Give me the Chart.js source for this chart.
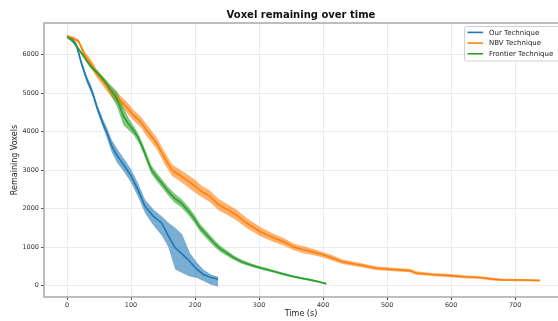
<!DOCTYPE html>
<html>
<head>
<meta charset="utf-8">
<script src="https://cdn.jsdelivr.net/npm/chart.js@4.4.0/dist/chart.umd.min.js"></script>
<style>
  html, body { margin: 0; padding: 0; background: #fff; }
  canvas { display: block; }
</style>
</head>
<body>
<canvas id="myChart" width="558" height="321"></canvas>
<script>
var seriesNames = ['Our Technique', 'NBV Technique', 'Frontier Technique'];
var xTicks = [0, 100, 200, 300, 400, 500, 600, 700];
var yTicks = [0, 1000, 2000, 3000, 4000, 5000, 6000];

// Our Technique
var ourTime = [0, 8, 15, 22, 30, 40, 47, 55, 62, 70, 78, 88, 100, 111, 122, 135, 148, 158, 169, 180, 192, 203, 213, 225, 236];
var ourMean = [6480, 6400, 6230, 5800, 5400, 5000, 4620, 4260, 3980, 3620, 3380, 3150, 2850, 2480, 2050, 1800, 1620, 1300, 980, 820, 620, 420, 290, 210, 170];
var ourLow  = [6450, 6350, 6160, 5720, 5310, 4910, 4530, 4150, 3850, 3460, 3200, 2980, 2680, 2300, 1880, 1560, 1300, 1010, 420, 330, 240, 200, 120, 20, -20];
var ourHigh = [6510, 6450, 6300, 5880, 5490, 5090, 4710, 4370, 4110, 3780, 3560, 3320, 3020, 2660, 2230, 1980, 1800, 1640, 1500, 1330, 850, 600, 420, 290, 230];

// NBV Technique
var nbvTime = [0, 10, 18, 28, 38, 46, 59, 70, 83, 95, 103, 115, 126, 140, 153, 164, 175, 187, 197, 210, 223, 237, 250, 265, 281, 302, 320, 338, 355, 369, 385, 400, 416, 430, 442, 460, 484, 510, 536, 545, 570, 598, 620, 645, 665, 680, 710, 739];
var nbvMean = [6480, 6420, 6350, 5975, 5750, 5520, 5240, 5000, 4810, 4600, 4440, 4250, 4000, 3700, 3300, 3000, 2880, 2740, 2620, 2450, 2320, 2100, 1980, 1830, 1620, 1400, 1260, 1140, 1000, 930, 870, 800, 710, 620, 580, 530, 450, 420, 390, 330, 290, 260, 230, 210, 170, 150, 145, 135];
var nbvLow  = [6450, 6380, 6300, 5885, 5640, 5410, 5120, 4880, 4680, 4460, 4300, 4110, 3850, 3550, 3140, 2850, 2730, 2580, 2450, 2300, 2170, 1950, 1840, 1690, 1490, 1280, 1150, 1040, 910, 840, 790, 730, 640, 560, 520, 480, 400, 375, 345, 285, 250, 220, 190, 175, 135, 120, 115, 110];
var nbvHigh = [6510, 6460, 6400, 6065, 5860, 5630, 5360, 5120, 4940, 4740, 4580, 4390, 4150, 3850, 3460, 3150, 3030, 2900, 2790, 2600, 2470, 2250, 2120, 1970, 1750, 1520, 1370, 1240, 1090, 1020, 950, 870, 780, 680, 640, 580, 500, 465, 435, 375, 330, 300, 270, 245, 205, 180, 175, 160];

// Frontier Technique
var frTime = [0, 10, 25, 36, 52, 60, 67, 78, 88, 96, 104, 111, 119, 126, 132, 142, 150, 158, 168, 178, 189, 198, 208, 218, 229, 239, 250, 260, 273, 286, 300, 312, 325, 338, 350, 364, 380, 393, 405];
var frMean = [6460, 6330, 5980, 5720, 5440, 5280, 5110, 4850, 4400, 4200, 4030, 3850, 3550, 3250, 3000, 2780, 2620, 2450, 2270, 2150, 1950, 1760, 1500, 1320, 1120, 960, 840, 730, 620, 540, 470, 420, 360, 300, 250, 200, 150, 100, 50];
var frLow  = [6430, 6290, 5930, 5660, 5380, 5200, 4990, 4650, 4170, 4040, 3910, 3740, 3440, 3140, 2890, 2670, 2510, 2340, 2150, 2040, 1840, 1650, 1400, 1220, 1030, 880, 770, 670, 570, 495, 430, 380, 325, 265, 220, 170, 120, 75, 25];
var frHigh = [6490, 6370, 6030, 5780, 5500, 5360, 5230, 5050, 4630, 4360, 4150, 3960, 3660, 3360, 3110, 2890, 2730, 2560, 2390, 2260, 2060, 1870, 1600, 1420, 1210, 1040, 910, 790, 670, 585, 510, 460, 395, 335, 280, 230, 180, 125, 75];

var font = 'DejaVu Sans';
var lineColors = ['#1f77b4', '#ff7f0e', '#2ca02c'];
var bandColors = ['rgba(31,119,180,0.6)', 'rgba(255,127,14,0.6)', 'rgba(44,160,44,0.6)'];

function pts(t, v) {
  return t.map(function (x, i) { return {x: x, y: v[i]}; });
}

var series = [
  [ourTime, ourMean, ourLow, ourHigh],
  [nbvTime, nbvMean, nbvLow, nbvHigh],
  [frTime, frMean, frLow, frHigh]
];

var datasets = [];
series.forEach(function (s, k) {
  datasets.push({
    label: seriesNames[k],
    data: pts(s[0], s[1]),
    borderColor: lineColors[k],
    borderWidth: 1.6,
    pointRadius: 0,
    fill: false,
    order: 3 - k
  });
  datasets.push({
    label: seriesNames[k] + ' upper',
    data: pts(s[0], s[3]),
    borderColor: 'rgba(0,0,0,0)',
    borderWidth: 1,
    backgroundColor: bandColors[k],
    pointRadius: 0,
    fill: '+1',
    order: 13 - k
  });
  datasets.push({
    label: seriesNames[k] + ' lower',
    data: pts(s[0], s[2]),
    borderColor: 'rgba(0,0,0,0)',
    borderWidth: 1,
    pointRadius: 0,
    fill: false,
    order: 13 - k
  });
});

// spines: top, left, bottom (right one is off the picture)
const axesFrame = {
  id: 'axesFrame',
  afterDatasetsDraw(chart) {
    const {ctx, chartArea: {left, top, right, bottom}} = chart;
    ctx.save();
    ctx.strokeStyle = '#a8a8a8';
    ctx.lineWidth = 1.5;
    ctx.beginPath();
    ctx.moveTo(right + 2, top);
    ctx.lineTo(left, top);
    ctx.lineTo(left, bottom);
    ctx.lineTo(right + 2, bottom);
    ctx.stroke();
    ctx.restore();
  }
};

const boxLegend = {
  id: 'boxLegend',
  afterDraw(chart) {
    const ctx = chart.ctx;
    ctx.save();
    ctx.fillStyle = 'rgba(255,255,255,0.85)';
    ctx.strokeStyle = '#d0d0d0';
    ctx.lineWidth = 1;
    ctx.beginPath();
    ctx.roundRect(464.5, 26.5, 110, 34.5, 2);
    ctx.fill();
    ctx.stroke();
    ctx.font = '7px "' + font + '"';
    ctx.textBaseline = 'middle';
    seriesNames.forEach(function (name, k) {
      var y = 32.4 + k * 10.7;
      ctx.strokeStyle = lineColors[k];
      ctx.lineWidth = 1.6;
      ctx.beginPath();
      ctx.moveTo(467.5, y);
      ctx.lineTo(483, y);
      ctx.stroke();
      ctx.fillStyle = '#222';
      ctx.fillText(name, 489, y + 0.5);
    });
    ctx.restore();
  }
};

var chart = new Chart(document.getElementById('myChart'), {
  type: 'line',
  data: { datasets: datasets },
  options: {
    responsive: false,
    animation: false,
    layout: { padding: 0 },
    elements: { line: { tension: 0 } },
    plugins: {
      legend: { display: false },
      tooltip: { enabled: false },
      title: {
        display: true,
        text: 'Voxel remaining over time',
        fullSize: false,
        color: '#111',
        font: { family: font, size: 10, weight: 'bold' },
        padding: { top: 9, bottom: 2 }
      }
    },
    scales: {
      x: {
        type: 'linear',
        min: -36,
        max: 767,
        afterBuildTicks: function (s) { s.ticks = xTicks.map(function (v) { return {value: v}; }); },
        afterFit: function (s) { s.height = 24; },
        border: { display: false },
        grid: { color: '#ececec', lineWidth: 1, tickColor: '#555', tickLength: 3 },
        ticks: {
          autoSkip: false, maxRotation: 0, padding: 1.5, color: '#333',
          font: { family: font, size: 6.5 },
          callback: function (v) { return String(v); }
        },
        title: {
          display: true, text: 'Time (s)', color: '#222',
          font: { family: font, size: 8 },
          padding: { top: 0, bottom: 2 }
        }
      },
      y: {
        type: 'linear',
        min: -295,
        max: 6820,
        afterBuildTicks: function (s) { s.ticks = yTicks.map(function (v) { return {value: v}; }); },
        afterFit: function (s) { s.width = 44; },
        border: { display: false },
        grid: { color: '#ececec', lineWidth: 1, tickColor: '#555', tickLength: 3 },
        ticks: {
          autoSkip: false, padding: 2, color: '#333',
          font: { family: font, size: 6.5 },
          callback: function (v) { return String(v); }
        },
        title: {
          display: true, text: 'Remaining Voxels', color: '#222',
          font: { family: font, size: 8 },
          padding: { top: 10, bottom: 0 }
        }
      }
    }
  },
  plugins: [axesFrame, boxLegend]
});
</script>
</body>
</html>
